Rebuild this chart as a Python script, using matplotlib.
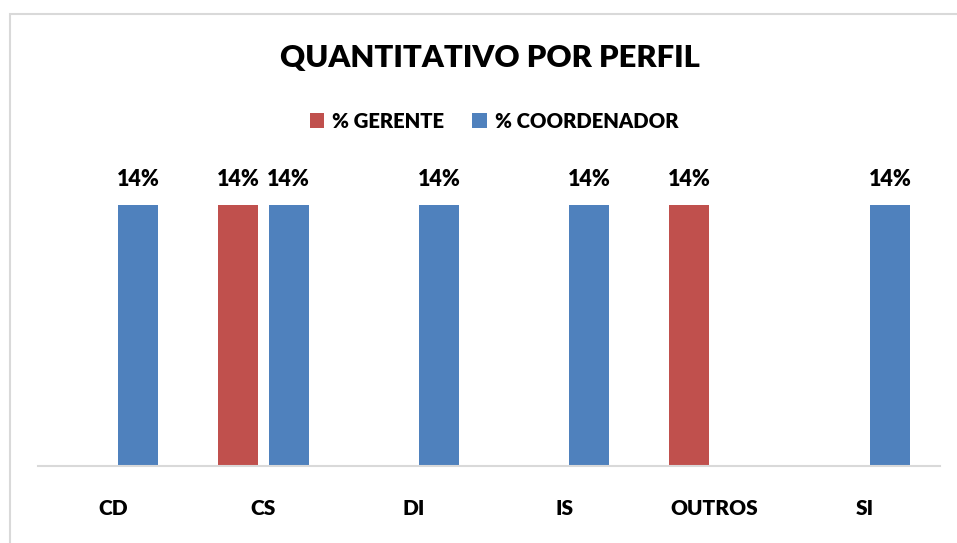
import matplotlib.pyplot as plt
from matplotlib.patches import Rectangle
import numpy as np

categories = ["CD", "CS", "DI", "IS", "OUTROS", "SI"]
gerente = [0, 0.14, 0, 0, 0.14, 0]
coordenador = [0.14, 0.14, 0.14, 0.14, 0, 0.14]
series_names = ["% GERENTE", "% COORDENADOR"]
colors = ["#C0504D", "#4F81BD"]

plt.rcParams['font.family'] = ['Lato', 'DejaVu Sans']
plt.rcParams['font.weight'] = 'heavy'

W, H = 957, 543
fig = plt.figure(figsize=(W / 100, H / 100), dpi=100)

# chart border (light gray, runs off right/bottom edges)
fig.patches.append(Rectangle((10 / W, -0.1), 1.1, (H - 14) / H + 0.1,
                             transform=fig.transFigure, fill=False,
                             edgecolor="#D9D9D9", linewidth=1.5))

ymax = 0.16
bottom_px, top_val_px = 466, 205
h_px = (bottom_px - top_val_px) * ymax / 0.14
ax = fig.add_axes([38 / W, (H - bottom_px) / H, 902 / W, h_px / H])

x = np.arange(len(categories))
width = 0.265
offset = 0.167
b1 = ax.bar(x - offset, gerente, width, color=colors[0], label=series_names[0])
b2 = ax.bar(x + offset, coordenador, width, color=colors[1], label=series_names[1])

for bars, vals in ((b1, gerente), (b2, coordenador)):
    for rect, v in zip(bars, vals):
        if v > 0:
            ax.text(rect.get_x() + rect.get_width() / 2, v + 0.008, f"{v:.0%}",
                    ha="center", va="bottom", fontsize=15.5, fontweight="heavy")

ax.set_xlim(-0.5, len(categories) - 0.5)
ax.set_ylim(0, ymax)
ax.set_yticks([])
ax.set_xticks(x)
ax.set_xticklabels(categories, fontsize=15, fontweight="heavy")
ax.tick_params(axis="x", length=0, pad=24)
for s in ("top", "right", "left"):
    ax.spines[s].set_visible(False)
ax.spines["bottom"].set_color("#D9D9D9")
ax.spines["bottom"].set_linewidth(1.5)

fig.text(490 / W, 1 - 58 / H, "QUANTITATIVO POR PERFIL", ha="center", va="center",
         fontsize=22.3, fontweight="heavy")
fig.legend(loc="center", bbox_to_anchor=(494 / W, 1 - 121 / H), ncol=2, frameon=False,
           handlelength=0.7, handleheight=0.7, handletextpad=0.4,
           columnspacing=1.4, prop={"weight": "heavy", "size": 14.6})

fig.savefig("out.png", dpi=100)
